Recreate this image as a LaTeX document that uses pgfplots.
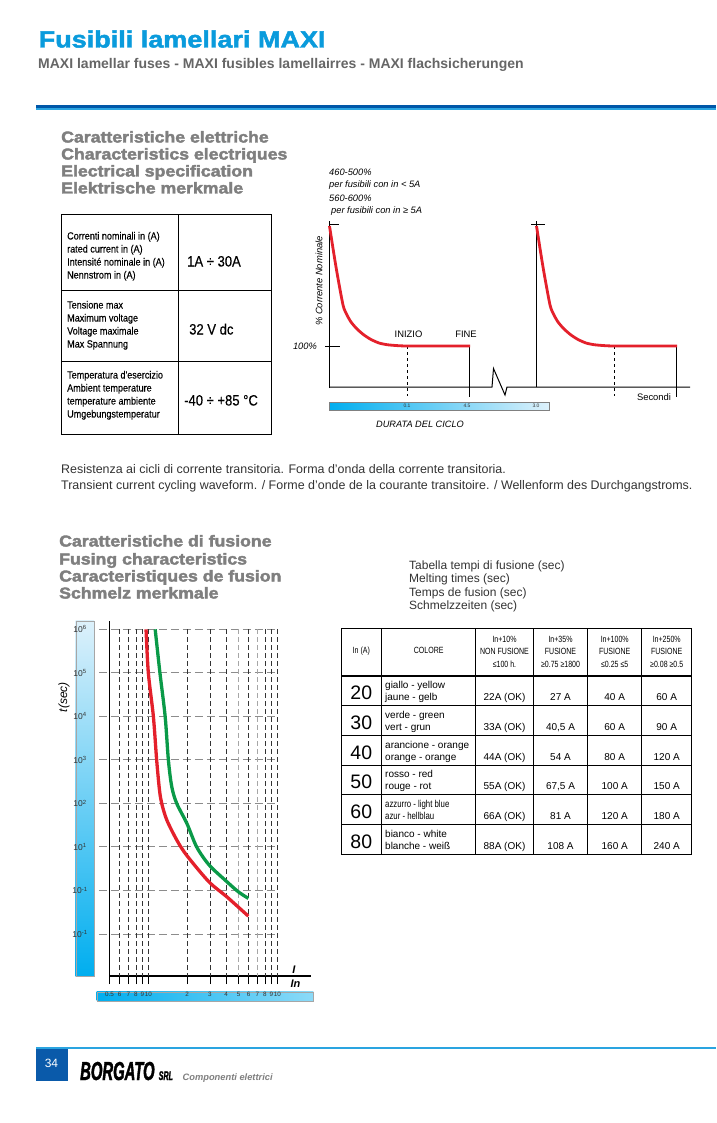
\documentclass[border=0pt]{standalone}
\usepackage{pgfplots}
\pgfplotsset{compat=1.18}
\usepackage{fontspec}
\setmainfont{Liberation Sans}
\newfontface\titlef{Liberation Sans Bold}[FakeStretch=1.15,FakeBold=2]
\newfontface\subf{Liberation Sans Bold}[FakeStretch=1.0]
\newfontface\heavy{Liberation Sans Bold}[FakeStretch=1.12,FakeBold=2.5]
\newfontface\cond{Liberation Sans}[FakeStretch=0.87]
\newfontface\condm{Liberation Sans}[FakeStretch=0.87,FakeBold=0.2]
\newfontface\condx{Liberation Sans}[FakeStretch=0.78]
\newfontface\brand{Liberation Sans Bold Italic}[FakeStretch=0.57,FakeBold=1.5]
\newfontface\compf{Liberation Sans Bold Italic}
\definecolor{titleblue}{HTML}{0A9BDC}
\definecolor{subgray}{HTML}{666666}
\definecolor{headgray}{HTML}{7F7F7F}
\definecolor{ruledark}{HTML}{0057A8}
\definecolor{rulelight}{HTML}{2AA4E0}
\definecolor{fred}{HTML}{E4202B}
\definecolor{fgreen}{HTML}{0A9A48}
\definecolor{cyanbar}{HTML}{00AEEF}
\definecolor{lightbar}{HTML}{DDF1FB}
\definecolor{footblue}{HTML}{0A5AAA}
\definecolor{textdark}{HTML}{333333}
\begin{document}
\begin{tikzpicture}[x=1pt,y=1pt]
\fill[white] (0,0) rectangle (716,-1123);
\path[use as bounding box] (0,0) rectangle (716,-1123);

% ---------- header ----------
\node[anchor=base west,inner sep=0,text=titleblue] at (38.5,-47.5) {\titlef\fontsize{23.5}{26}\selectfont Fusibili lamellari MAXI};
\node[anchor=base west,inner sep=0,text=subgray] at (38,-68.5) {\subf\fontsize{14}{17}\selectfont MAXI lamellar fuses - MAXI fusibles lamellairres - MAXI flachsicherungen};
\fill[ruledark] (36,-105) rectangle (716,-108.5);
\fill[rulelight] (36,-108.5) rectangle (716,-110.5);

% ---------- heading 1 ----------
\foreach \t/\yy in {Caratteristiche elettriche/142.5,Characteristics electriques/159.5,Electrical specification/176.5,Elektrische merkmale/193.5}
  \node[anchor=base west,inner sep=0,text=headgray] at (61,-\yy) {\heavy\fontsize{15.8}{17}\selectfont \t};

% ---------- left table ----------
\draw[line width=1pt] (61,-215) rectangle (271,-434);
\draw[line width=1pt] (178,-215) -- (178,-434);
\draw[line width=1pt] (61,-290) -- (271,-290);
\draw[line width=1pt] (61,-361) -- (271,-361);
\foreach \t/\yy in {Correnti nominali in (A)/239.5,rated current in (A)/252.5,Intensité nominale in (A)/265.5,Nennstrom in (A)/278.5,
  Tensione max/308.5,Maximum voltage/321.5,Voltage maximale/334.5,Max Spannung/347.5,
  Temperatura d'esercizio/378.5,Ambient temperature/391.5,temperature ambiente/404.5,Umgebungstemperatur/417.5}
  \node[anchor=base west,inner sep=0] at (67,-\yy) {\condm\fontsize{10.4}{11}\selectfont \t};
\node[anchor=base west,inner sep=0] at (187,-266.5) {\condm\fontsize{15}{16}\selectfont 1A ÷ 30A};
\node[anchor=base west,inner sep=0] at (189,-334.5) {\condm\fontsize{15}{16}\selectfont 32 V dc};
\node[anchor=base west,inner sep=0] at (184,-405.5) {\condm\fontsize{15}{16}\selectfont -40 ÷ +85 °C};

% ---------- waveform labels ----------
\begin{scope}[every node/.style={inner sep=0}]
\node[anchor=base west] at (329,-176) {\itshape\fontsize{9.3}{10}\selectfont 460-500\%};
\node[anchor=base west] at (329,-187.5) {\itshape\fontsize{9.3}{10}\selectfont per fusibili con in < 5A};
\node[anchor=base west] at (329,-201.5) {\itshape\fontsize{9.3}{10}\selectfont 560-600\%};
\node[anchor=base west] at (331,-214) {\itshape\fontsize{9.3}{10}\selectfont per fusibili con in ≥ 5A};
\node[rotate=90] at (319,-281) {\itshape\fontsize{9.4}{10}\selectfont \% Corrente Nominale};
\node[anchor=base east] at (317,-349.5) {\itshape\fontsize{9.3}{10}\selectfont 100\%};
\node[anchor=base] at (408.5,-337.5) {\fontsize{9.4}{10}\selectfont INIZIO};
\node[anchor=base] at (466,-337.5) {\fontsize{9.4}{10}\selectfont FINE};
\node[anchor=base] at (654,-400) {\fontsize{9.4}{10}\selectfont Secondi};
\node[anchor=base] at (420,-427.5) {\itshape\fontsize{9.2}{10}\selectfont DURATA DEL CICLO};
\end{scope}
\shade[left color=cyanbar,right color=lightbar,draw=gray,line width=0.4pt] (329,-402) rectangle (549,-410);
\foreach \t/\xx in {0.1/407,4.5/467,3.0/536}
  \node[inner sep=0,text=textdark] at (\xx,-406) {\fontsize{5}{6}\selectfont \t};

\begin{axis}[at={(329pt,-387pt)},anchor=south west,scale only axis,
  width=361pt,height=166pt,xmin=0,xmax=361,ymin=0,ymax=166,hide axis,clip=false]
\addplot[black,line width=1pt] coordinates {(0,-1) (0,166)};
\addplot[black,line width=0.8pt] coordinates {(0,163) (10,163)};
\addplot[black,line width=0.8pt] coordinates {(-4,41) (11,41)};
\addplot[black,line width=1pt] coordinates {(0,0) (163,0) (164.5,18.5) (176,-8) (178,0) (361,0)};
\addplot[black,line width=1pt] coordinates {(207,0) (207,166)};
\addplot[black,line width=0.8pt] coordinates {(202,163) (216,163)};
\addplot[black,line width=0.7pt,dashed] coordinates {(78,41) (78,-9)};
\addplot[black,line width=0.5pt] coordinates {(140,41) (140,-10)};
\addplot[black,line width=0.7pt,dashed] coordinates {(285,41) (285,-9)};
\addplot[black,line width=0.5pt] coordinates {(347,41) (347,-10)};
\addplot[fred,line width=2.8pt,smooth,tension=0.4] coordinates {(0.5,161) (7,120) (14,82) (18,72) (22,65) (28,58) (35,52) (42,47.5) (50,44) (58,42.3) (68,41.4) (80,41) (141,41)};
\addplot[fred,line width=2.8pt,smooth,tension=0.4] coordinates {(207.5,161) (214,120) (221,82) (225,72) (229,65) (235,58) (242,52) (249,47.5) (257,44) (265,42.3) (275,41.4) (287,41) (348,41)};
\end{axis}

% ---------- paragraph ----------
\node[anchor=base west,inner sep=0,text=textdark] at (61,-473) {\fontsize{12.45}{14}\selectfont Resistenza ai cicli di corrente transitoria. Forma d'onda della corrente transitoria.};
\node[anchor=base west,inner sep=0,text=textdark] at (61,-489) {\fontsize{12.45}{14}\selectfont Transient current cycling waveform. / Forme d'onde de la courante transitoire. / Wellenform des Durchgangstroms.};

% ---------- heading 2 ----------
\foreach \t/\yy in {Caratteristiche di fusione/546.5,Fusing characteristics/564.5,Caracteristiques de fusion/581.5,Schmelz merkmale/598.5}
  \node[anchor=base west,inner sep=0,text=headgray] at (59,-\yy) {\heavy\fontsize{15.8}{17}\selectfont \t};

\foreach \t/\yy in {Tabella tempi di fusione (sec)/569,Melting times (sec)/582.5,Temps de fusion (sec)/596,Schmelzzeiten (sec)/609.5}
  \node[anchor=base west,inner sep=0,text=textdark] at (409,-\yy) {\fontsize{12}{13}\selectfont \t};

% ---------- fusing chart ----------
\shade[top color=lightbar,bottom color=cyanbar,draw=black!35,line width=0.4pt] (75.7,-620.7) rectangle (94,-976);
\shade[left color=cyanbar,right color=cyanbar!45,draw=black!35,line width=0.4pt] (96.7,-991.7) rectangle (313.3,-1000.7);
\node[rotate=90,inner sep=0] at (64,-697) {\itshape\fontsize{12}{14}\selectfont t(sec)};
\node[inner sep=0] at (294,-970) {\itshape\bfseries\fontsize{11}{12}\selectfont I};
\node[inner sep=0] at (295.5,-983.5) {\itshape\bfseries\fontsize{11}{12}\selectfont In};

\begin{axis}[at={(109.5pt,-976pt)},anchor=south west,scale only axis,
  width=201.2pt,height=355.3pt,
  xmode=log,ymode=log,xmin=0.5,xmax=18.14,ymin=1.084e-2,ymax=1.578e6,
  axis x line=bottom,axis y line=left,axis line style={-,line width=1.1pt},
  xminorticks=false,yminorticks=false,
  xtick={0.5,0.6,0.7,0.8,0.9,1,2,3,4,5,6,7,8,9,10},
  xticklabels={0.5,6,7,8,9,10,2,3,4,5,6,7,8,9,10},
  xtick align=outside,major tick length=8pt,
  xtick style={black,line width=0.6pt},
  xticklabel style={font=\fontsize{6.3}{7}\selectfont,text=textdark,yshift=-5pt},
  ytick={0.1,1,10,100,1000,10000,100000,1000000},
  yticklabels={10\textsuperscript{-1},10\textsuperscript{-1},10\textsuperscript{1},10\textsuperscript{2},10\textsuperscript{3},10\textsuperscript{4},10\textsuperscript{5},10\textsuperscript{6}},
  ytick style={draw=none},
  yticklabel style={anchor=center,xshift=-25.5pt,font=\fontsize{8.5}{9}\selectfont,text=textdark},
  clip=false]
\pgfplotsinvokeforeach{0.1,1,10,100,1000,10000,100000,1000000}{
  \draw[black!45,line width=1pt,dash pattern=on 8pt off 4pt] (axis cs:0.4145,#1) -- (axis cs:10,#1);
}
\pgfplotsinvokeforeach{0.6,0.7,0.8,0.9,1,2,3,4,6,8,9,10}{
  \draw[black!80,line width=0.6pt,dash pattern=on 5pt off 3pt] (axis cs:#1,1e6) -- (axis cs:#1,1.084e-2);
}
\pgfplotsinvokeforeach{5,7}{
  \draw[black!35,line width=0.8pt,dash pattern=on 5pt off 3pt] (axis cs:#1,1e6) -- (axis cs:#1,1.084e-2);
}
\addplot[fred,line width=3.3pt,smooth,tension=0.5] coordinates {(0.96,1e6) (1.0,1e5) (1.094,1e4) (1.16,1e3) (1.22,204) (1.27,100) (1.39,41.7) (1.66,14.5) (1.98,6.46) (2.95,1.58) (4.05,0.72) (5.96,0.257)};
\addplot[fgreen,line width=3.3pt,smooth,tension=0.5] coordinates {(1.13,1e6) (1.23,1e5) (1.35,1e4) (1.43,1e3) (1.52,240) (1.66,100) (1.99,34.7) (2.37,10) (2.95,3.89) (3.93,1.74) (4.99,0.93) (5.96,0.66)};
\end{axis}

% ---------- fusing table ----------
\draw[line width=1pt] (341,-628) rectangle (691.7,-854);
\foreach \xx in {381.7,475.7,533.3,587.7,641.7} \draw[line width=0.8pt] (\xx,-628) -- (\xx,-854);
\draw[line width=1.5pt] (341,-676) -- (691.7,-676);
\foreach \yy in {705.5,735,765,794.5,824} \draw[line width=0.8pt] (341,-\yy) -- (691.7,-\yy);
\begin{scope}[every node/.style={inner sep=0}]
\node[anchor=base] at (361.3,-653) {\condx\fontsize{9}{10}\selectfont In (A)};
\node[anchor=base] at (428.7,-653) {\condx\fontsize{9}{10}\selectfont COLORE};
\foreach \xx/\a/\b/\c in {504.5/In+10\%/NON FUSIONE/≤100 h.,560.5/In+35\%/FUSIONE/≥0.75 ≥1800,614.7/In+100\%/FUSIONE/≤0.25 ≤5,666.7/In+250\%/FUSIONE/≥0.08 ≥0.5}{
  \node[anchor=base] at (\xx,-642) {\condx\fontsize{9}{10}\selectfont \a};
  \node[anchor=base] at (\xx,-654.5) {\condx\fontsize{9}{10}\selectfont \b};
  \node[anchor=base] at (\xx,-667) {\condx\fontsize{9}{10}\selectfont \c};
}
\foreach \yy/\n/\ca/\cb/\va/\vb/\vc/\vd in {
  690.75/20/giallo - yellow/jaune - gelb/22A (OK)/27 A/40 A/60 A,
  720.25/30/verde - green/vert - grun/33A (OK)/{40,5 A}/60 A/90 A,
  750/40/arancione - orange/orange - orange/44A (OK)/54 A/80 A/120 A,
  779.75/50/rosso - red/rouge - rot/55A (OK)/{67,5 A}/100 A/150 A,
  809.25/60/{}/{}/66A (OK)/81 A/120 A/180 A,
  839/80/bianco - white/blanche - weiß/88A (OK)/108 A/160 A/240 A}{
  \node[anchor=base] at (361.3,-\yy-9) {\fontsize{19.5}{21}\selectfont \n};
  \node[anchor=base west] at (385,-\yy+2) {\fontsize{10}{11}\selectfont \ca};
  \node[anchor=base west] at (385,-\yy-10) {\fontsize{10}{11}\selectfont \cb};
  \node[anchor=base] at (504.5,-\yy-10) {\fontsize{10}{12}\selectfont \va};
  \node[anchor=base] at (560.5,-\yy-10) {\fontsize{10}{12}\selectfont \vb};
  \node[anchor=base] at (614.7,-\yy-10) {\fontsize{10}{12}\selectfont \vc};
  \node[anchor=base] at (666.7,-\yy-10) {\fontsize{10}{12}\selectfont \vd};
}
\node[anchor=base west] at (385,-807.25) {\condx\fontsize{10}{11}\selectfont azzurro - light blue};
\node[anchor=base west] at (385,-819.25) {\condx\fontsize{10}{11}\selectfont azur - hellblau};
\end{scope}

% ---------- footer ----------
\fill[rulelight] (36,-1046.5) rectangle (716,-1049);
\fill[footblue] (36,-1049) rectangle (68,-1081);
\node[text=white,inner sep=0] at (51.5,-1063) {\fontsize{12}{13}\selectfont 34};
\node[anchor=base west,inner sep=0] at (80,-1080) {\brand\fontsize{26}{28}\selectfont BORGATO};
\node[anchor=base west,inner sep=0] at (158.5,-1080) {\brand\fontsize{12.5}{14}\selectfont SRL};
\node[anchor=base west,inner sep=0,text=headgray] at (182.5,-1080) {\compf\fontsize{9.3}{10}\selectfont Componenti elettrici};
\end{tikzpicture}
\end{document}
